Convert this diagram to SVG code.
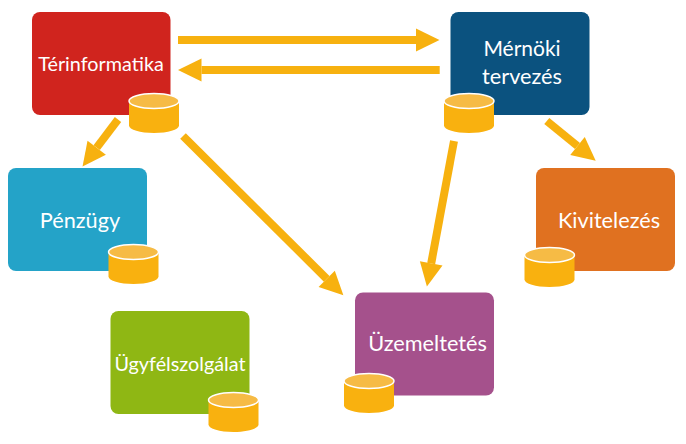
<svg xmlns="http://www.w3.org/2000/svg" width="686" height="444" viewBox="0 0 686 444">
<style>
.box{stroke:none}
.lbl{font-family:"Lato","Open Sans","Liberation Sans",sans-serif;font-size:21.700px;fill:#fff;text-anchor:middle}
.md{font-size:21px}
.sm{font-size:19.800px}
.cyl-b{fill:#f9b10f;stroke:none}
.cyl-t{fill:#f6bb45;stroke:#fff;stroke-width:1.5}
.arr{stroke:#f7b10f;stroke-width:8;fill:none;marker-end:url(#ah)}
</style>
<defs>
<marker id="ah" markerUnits="userSpaceOnUse" markerWidth="24" markerHeight="24" refX="0" refY="12" orient="auto" overflow="visible"><path d="M0 0.5L23.500 12L0 23.500Z" fill="#f7b10f"/></marker>
<g id="cyl"><path class="cyl-b" d="M0 8V32.500C0 36.700 11.200 40 25 40S50 36.700 50 32.500V8Z"/><ellipse class="cyl-t" cx="25" cy="8" rx="25" ry="7.500"/></g>
</defs>
<rect width="686" height="444" fill="#fff"/>
<g id="connectors">
<line class="arr" x1="178" y1="40" x2="416" y2="40"/>
<line class="arr" x1="439.700" y1="70" x2="201.500" y2="70"/>
<line class="arr" x1="118" y1="119.500" x2="96.700" y2="147.700"/>
<line class="arr" x1="183" y1="136" x2="326.700" y2="278.800"/>
<line class="arr" x1="546.800" y1="121" x2="577.500" y2="146"/>
<line class="arr" x1="454" y1="141" x2="431.200" y2="263.400"/>
</g>
<g id="terinformatika"><rect class="box" x="32" y="12" width="138.500" height="103" rx="8" fill="#d0241e"/><text class="lbl sm" x="101" y="70.500">Térinformatika</text><use href="#cyl" x="129" y="93"/></g>
<g id="mernoki"><rect class="box" x="450.500" y="12" width="139" height="103" rx="8" fill="#0b527f"/><text class="lbl md" x="522" y="56">Mérnöki</text><text class="lbl" x="522" y="84">tervezés</text><use href="#cyl" x="444" y="93"/></g>
<g id="penzugy"><rect class="box" x="8" y="168" width="139" height="103" rx="8" fill="#24a3c8"/><text class="lbl" x="80" y="228">Pénzügy</text><use href="#cyl" x="108.500" y="244"/></g>
<g id="kivitelezes"><rect class="box" x="536" y="168" width="139" height="103" rx="8" fill="#e07120"/><text class="lbl" x="609" y="228">Kivitelezés</text><use href="#cyl" x="524.500" y="247"/></g>
<g id="ugyfelszolgalat"><rect class="box" x="110.500" y="311" width="139" height="103" rx="8" fill="#8fb714"/><text class="lbl sm" x="180" y="371">Ügyfélszolgálat</text><use href="#cyl" x="208.500" y="392"/></g>
<g id="uzemeltetes"><rect class="box" x="355" y="292.500" width="139" height="103" rx="8" fill="#a5518c"/><text class="lbl" x="427.500" y="351">Üzemeltetés</text><use href="#cyl" x="344" y="373"/></g>
</svg>
